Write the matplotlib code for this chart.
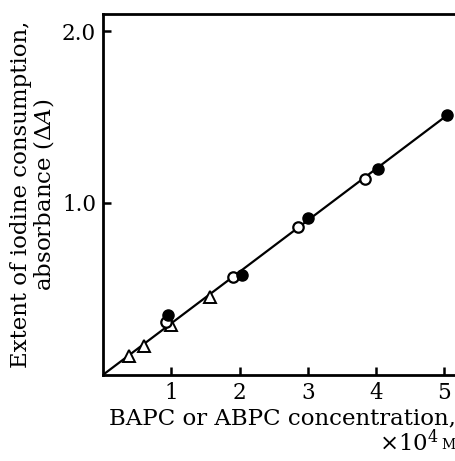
import matplotlib
matplotlib.use("Agg")
import matplotlib.pyplot as plt

plt.rcParams['font.family'] = ['DejaVu Serif']
plt.rcParams['mathtext.fontset'] = 'dejavuserif'

# Iodine consumption vs. concentration (x 10^4 M)
tri_x = [0.38, 0.60, 1.00, 1.57]
tri_y = [0.11, 0.17, 0.29, 0.45]
open_x = [0.92, 1.90, 2.86, 3.84]
open_y = [0.31, 0.57, 0.86, 1.14]
filled_x = [0.95, 2.03, 3.00, 4.03, 5.04]
filled_y = [0.35, 0.58, 0.91, 1.20, 1.51]
fit_x = [0.0, 5.04]
fit_y = [0.0, 1.51]

fig = plt.figure(figsize=(4.56, 4.61), dpi=100)
ax = fig.add_axes([0.226, 0.187, 0.774, 0.783])

ax.plot(fit_x, fit_y, color='black', linewidth=1.6, zorder=2)
ax.plot(tri_x, tri_y, linestyle='none', marker='^', markersize=9,
        markerfacecolor='white', markeredgecolor='black', markeredgewidth=1.4, zorder=3)
ax.plot(open_x, open_y, linestyle='none', marker='o', markersize=7.5,
        markerfacecolor='white', markeredgecolor='black', markeredgewidth=1.6, zorder=3)
ax.plot(filled_x, filled_y, linestyle='none', marker='o', markersize=8,
        color='black', zorder=4)

ax.set_xlim(0, 5.17)
ax.set_ylim(0, 2.1)
ax.set_xticks([1, 2, 3, 4, 5])
ax.set_xticklabels(['1', '2', '3', '4', '5'])
ax.set_yticks([1.0, 2.0])
ax.set_yticklabels(['1.0', '2.0'])
ax.tick_params(direction='in', length=6, width=1.8, labelsize=15.5, pad=5)
ax.spines['right'].set_visible(False)
for side in ['left', 'bottom', 'top']:
    ax.spines[side].set_linewidth(2)

ax.set_ylabel('Extent of iodine consumption,\nabsorbance $(\\mathit{\\Delta A})$',
              fontsize=16.5, linespacing=0.95, labelpad=4)

fig.text(0.999, 0.093, 'BAPC or ABPC concentration,', ha='right', va='center', fontsize=16.5)
fig.text(0.962, 0.040, '$\\times$10$^4$', ha='right', va='center', fontsize=16.5)
fig.text(0.999, 0.034, 'M', ha='right', va='center', fontsize=10)

fig.savefig('out.png', dpi=100)
